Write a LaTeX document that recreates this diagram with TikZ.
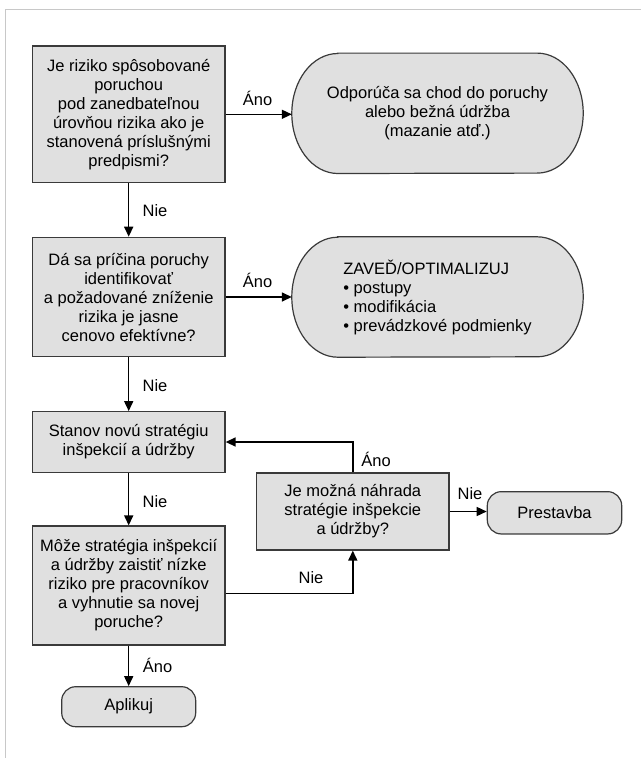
\documentclass[tikz,border=0pt]{standalone}
\usepackage{fontspec}
\setmainfont{Liberation Sans}
\usetikzlibrary{arrows.meta,backgrounds}
\definecolor{boxfill}{HTML}{E0E0E0}
\definecolor{boxline}{HTML}{3A3A3A}
\definecolor{framec}{HTML}{C8C8C8}
\begin{document}
\begin{tikzpicture}[x=1pt,y=-1pt,
  font=\fontsize{16.5}{19}\selectfont,
  qbox/.style={draw=boxline, fill=boxfill, line width=1.2pt, align=center, inner sep=0pt, minimum width=192.7pt},
  stadtext/.style={inner sep=0pt, minimum width=291pt, minimum height=120pt},
  stadline/.style={draw=boxline, fill=boxfill, line width=1.2pt},
  endbox/.style={draw=boxline, fill=boxfill, line width=1.2pt, rounded corners=14pt, inner sep=0pt, align=center},
  conn/.style={line width=1.5pt, -{Triangle[length=10pt,width=9pt]}},
  lbl/.style={inner sep=0pt}]
\useasboundingbox (0,0) rectangle (641,758);
\draw[framec, line width=1pt] (5,758) -- (5,9.5) -- (641,9.5);

\node[qbox, minimum height=136.7pt] (q1) at (128.7,114.3) {Je riziko spôsobované\\poruchou\\pod zanedbateľnou\\úrovňou rizika ako je\\stanovená príslušnými\\predpismi?};
\node[stadtext, align=center] (s1) at (437.5,113.3) {Odporúča sa chod do poruchy\\alebo bežná údržba\\(mazanie atď.)};
\node[qbox, minimum height=119.4pt] (q2) at (128.7,297) {Dá sa príčina poruchy\\identifikovať\\a požadované zníženie\\rizika je jasne\\cenovo efektívne?};
\node[stadtext, align=left] (s2) at (437.5,297) {ZAVEĎ/OPTIMALIZUJ\\• postupy\\• modifikácia\\• prevádzkové podmienky};
\node[qbox, minimum height=60.6pt] (q3) at (128.7,442) {Stanov novú stratégiu\\inšpekcií a údržby};
\node[qbox, minimum width=192.3pt, minimum height=77pt] (q4) at (352.8,511.5) {Je možná náhrada\\stratégie inšpekcie\\a údržby?};
\node[endbox, minimum width=134.4pt, minimum height=42.3pt] (pr) at (554.5,512.8) {Prestavba};
\node[qbox, minimum height=119pt] (q5) at (128.7,585.5) {Môže stratégia inšpekcií\\a údržby zaistiť nízke\\riziko pre pracovníkov\\a vyhnutie sa novej\\poruche?};
\node[endbox, minimum width=134pt, minimum height=40pt] (ap) at (128.7,706.7) {Aplikuj};

\begin{scope}[on background layer]
\draw[stadline] ([xshift=46pt]s1.north west) -- ([xshift=-46pt]s1.north east) arc[start angle=90, end angle=-90, x radius=46pt, y radius=60pt] -- ([xshift=46pt]s1.south west) arc[start angle=270, end angle=90, x radius=46pt, y radius=60pt] -- cycle;
\draw[stadline] ([xshift=46pt]s2.north west) -- ([xshift=-46pt]s2.north east) arc[start angle=90, end angle=-90, x radius=46pt, y radius=60pt] -- ([xshift=46pt]s2.south west) arc[start angle=270, end angle=90, x radius=46pt, y radius=60pt] -- cycle;
\end{scope}

\draw[conn] (q1.east) -- (q1.east -| s1.west);
\draw[conn] (q1.south) -- (q2.north);
\draw[conn] (q2.east) -- (q2.east -| s2.west);
\draw[conn] (q2.south) -- (q3.north);
\draw[conn] (q3.south) -- (q5.north);
\draw[conn] (q5.south) -- (ap.north);
\draw[conn] (q4.north) |- (q3.east);
\draw[conn] (q4.east) -- (q4.east -| pr.west);
\draw[conn] ([yshift=-8pt]q5.east) -| (q4.south);

\node[lbl] (l1) at (257.5,98) {Áno};
\node[lbl] (l2) at (155,211) {Nie};
\node[lbl] (l3) at (257.5,280) {Áno};
\node[lbl] (l4) at (155,386) {Nie};
\node[lbl] (l5) at (155,501.7) {Nie};
\node[lbl] (l6) at (376,459.3) {Áno};
\node[lbl] (l7) at (470,494) {Nie};
\node[lbl] (l8) at (311,577.3) {Nie};
\node[lbl] (l9) at (157.5,665) {Áno};
\end{tikzpicture}
\end{document}
